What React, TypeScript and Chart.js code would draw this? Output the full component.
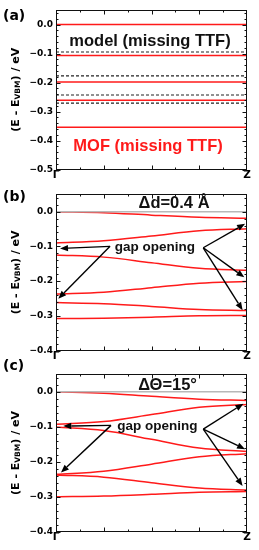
import React, { useEffect, useRef } from "react";
import { Chart, registerables } from "chart.js";

Chart.register(...registerables);

// ---------- data ----------
const kEnds = [0, 1];
const kPath = [0, 0.25, 0.5, 0.75, 1];
const kLabels = ["Γ", "Z"];

const yTicksA = [0, -0.1, -0.2, -0.3, -0.4, -0.5];
const yTicksBC = [0, -0.1, -0.2, -0.3, -0.4];

// panel (a): flat levels
const modelLevels = [0.0, -0.095, -0.177, -0.243, -0.271];
const mofLevels = [0.0, -0.107, -0.198, -0.261, -0.354];

// panel (b): bands along Γ→Z (Δd = 0.4 Å)
const bBand1 = [0.0, -0.003, -0.010, -0.016, -0.019];
const bBand2 = [-0.090, -0.084, -0.070, -0.055, -0.049];
const bBand3 = [-0.125, -0.131, -0.147, -0.163, -0.169];
const bBand4 = [-0.237, -0.232, -0.219, -0.206, -0.201];
const bBand5 = [-0.262, -0.265, -0.273, -0.282, -0.285];
const bBand6 = [-0.308, -0.307, -0.304, -0.300, -0.299];

// panel (c): bands along Γ→Z (ΔΘ = 15°)
const cBand1 = [0.0, -0.004, -0.013, -0.021, -0.025];
const cBand2 = [-0.093, -0.085, -0.065, -0.044, -0.036];
const cBand3 = [-0.101, -0.111, -0.136, -0.161, -0.171];
const cBand4 = [-0.236, -0.227, -0.207, -0.186, -0.177];
const cBand5 = [-0.238, -0.244, -0.260, -0.275, -0.281];
const cBand6 = [-0.300, -0.298, -0.293, -0.287, -0.285];

const zeroRef = [0, 0];

// ---------- styles ----------
const RED = "#ff1a1a";
const BOLD_SANS = "'Liberation Sans', Arial, sans-serif";
const DEJAVU = "'DejaVu Sans', sans-serif";

const pts = (xs: number[], ys: number[]) => xs.map((x, i) => ({ x, y: ys[i] }));

const redLine = (ys: number[], xs = kPath) => ({
  data: pts(xs, ys),
  borderColor: RED,
  borderWidth: 1.5,
  pointRadius: 0,
  tension: 0.35,
  fill: false,
});

const greyLine = () => ({
  data: pts(kEnds, zeroRef),
  borderColor: "#b8b8b8",
  borderWidth: 1.5,
  pointRadius: 0,
  fill: false,
});

const dashedLine = (v: number) => ({
  data: pts(kEnds, [v, v]),
  borderColor: "#222",
  borderWidth: 1.1,
  borderDash: [3, 2],
  pointRadius: 0,
  fill: false,
});

type TextSpec = { text: string; x: number; y: number; color: string; font: string };
type ArrowSpec = { from: [number, number]; to: [number, number][] };
type PanelSpec = {
  top: number;
  height: number;
  areaTop: number;
  areaBottom: number;
  yMin: number;
  yMax: number;
  yTicks: number[];
  label: string;
  labelY: number;
  datasets: any[];
  texts: TextSpec[];
  arrows: ArrowSpec[];
};

const panels: PanelSpec[] = [
  {
    top: 0,
    height: 180,
    areaTop: 10,
    areaBottom: 169.5,
    yMin: -0.5,
    yMax: 0.05,
    yTicks: yTicksA,
    label: "(a)",
    labelY: 16,
    datasets: [
      ...mofLevels.map((v) => redLine([v, v], kEnds)),
      ...modelLevels.map((v) => dashedLine(v)),
    ],
    texts: [
      { text: "model (missing TTF)", x: 0.492, y: -0.058, color: "#111", font: `bold 16.5px ${BOLD_SANS}` },
      { text: "MOF (missing TTF)", x: 0.482, y: -0.42, color: RED, font: `bold 16.5px ${BOLD_SANS}` },
    ],
    arrows: [],
  },
  {
    top: 178,
    height: 182,
    areaTop: 16.3,
    areaBottom: 172.5,
    yMin: -0.4,
    yMax: 0.05,
    yTicks: yTicksBC,
    label: "(b)",
    labelY: 19,
    datasets: [greyLine(), ...[bBand1, bBand2, bBand3, bBand4, bBand5, bBand6].map((b) => redLine(b))],
    texts: [
      { text: "Δd=0.4 Å", x: 0.618, y: 0.023, color: "#111", font: `bold 16.5px ${BOLD_SANS}` },
      { text: "gap opening", x: 0.518, y: -0.104, color: "#111", font: `bold 13.5px ${BOLD_SANS}` },
    ],
    arrows: [
      { from: [0.283, -0.1], to: [[0.021, -0.106], [0.012, -0.251]] },
      { from: [0.771, -0.104], to: [[0.99, -0.035], [0.986, -0.189], [0.977, -0.284]] },
    ],
  },
  {
    top: 352,
    height: 198,
    areaTop: 22.3,
    areaBottom: 179.7,
    yMin: -0.4,
    yMax: 0.05,
    yTicks: yTicksBC,
    label: "(c)",
    labelY: 14,
    datasets: [greyLine(), ...[cBand1, cBand2, cBand3, cBand4, cBand5, cBand6].map((b) => redLine(b))],
    texts: [
      { text: "ΔΘ=15°", x: 0.584, y: 0.019, color: "#111", font: `bold 16.5px ${BOLD_SANS}` },
      { text: "gap opening", x: 0.531, y: -0.098, color: "#111", font: `bold 13.5px ${BOLD_SANS}` },
    ],
    arrows: [
      { from: [0.288, -0.096], to: [[0.038, -0.098], [0.026, -0.231]] },
      { from: [0.771, -0.107], to: [[0.981, -0.034], [0.99, -0.164], [0.977, -0.269]] },
    ],
  },
];

const W = 259;
const AXIS_W = 56;
const RIGHT_PAD = 12;

function drawArrow(ctx: CanvasRenderingContext2D, x0: number, y0: number, x1: number, y1: number) {
  const ang = Math.atan2(y1 - y0, x1 - x0);
  const hl = 8;
  const hw = 3.2;
  const bx = x1 - hl * Math.cos(ang);
  const by = y1 - hl * Math.sin(ang);
  ctx.beginPath();
  ctx.moveTo(x0, y0);
  ctx.lineTo(bx, by);
  ctx.stroke();
  ctx.beginPath();
  ctx.moveTo(x1, y1);
  ctx.lineTo(bx - hw * Math.sin(ang), by + hw * Math.cos(ang));
  ctx.lineTo(bx + hw * Math.sin(ang), by - hw * Math.cos(ang));
  ctx.closePath();
  ctx.fill();
}

function makeDeco(p: PanelSpec) {
  return {
    id: "panelDeco",
    afterDraw(chart: any) {
      const ctx: CanvasRenderingContext2D = chart.ctx;
      const { left, right, top, bottom } = chart.chartArea;
      const xs = chart.scales.x;
      const ys = chart.scales.y;
      ctx.save();
      // frame
      ctx.strokeStyle = "#111";
      ctx.lineWidth = 1;
      const L = Math.round(left) + 0.5;
      const R = Math.round(right) - 0.5;
      const T = Math.round(top) + 0.5;
      const B = Math.round(bottom) - 0.5;
      ctx.strokeRect(L, T, R - L, B - T);
      // y ticks (major 0.1, minor 0.02)
      ctx.beginPath();
      const iMin = Math.ceil(p.yMin * 50 - 1e-6);
      const iMax = Math.floor(p.yMax * 50 + 1e-6);
      for (let i = iMin; i <= iMax; i++) {
        const py = Math.round(ys.getPixelForValue(i / 50)) + 0.5;
        const len = i % 5 === 0 ? 4 : 2;
        ctx.moveTo(L, py);
        ctx.lineTo(L + len, py);
        ctx.moveTo(R, py);
        ctx.lineTo(R - len, py);
      }
      // x ticks
      for (let j = 1; j < 8; j++) {
        const px = Math.round(xs.getPixelForValue(j / 8)) + 0.5;
        const len = j % 2 === 0 ? 4 : 2;
        ctx.moveTo(px, T);
        ctx.lineTo(px, T + len);
        ctx.moveTo(px, B);
        ctx.lineTo(px, B - len);
      }
      ctx.stroke();

      // y axis title with subscript
      const midY = (top + bottom) / 2;
      const fMain = `bold 11px ${DEJAVU}`;
      const fSub = `bold 7.5px ${DEJAVU}`;
      const parts = [
        { t: "(E - E", f: fMain, dy: 0 },
        { t: "VBM", f: fSub, dy: 2.5 },
        { t: ") / eV", f: fMain, dy: 0 },
      ];
      let total = 0;
      const widths = parts.map((pt) => {
        ctx.font = pt.f;
        const w = ctx.measureText(pt.t).width;
        total += w;
        return w;
      });
      ctx.translate(16, midY);
      ctx.rotate(-Math.PI / 2);
      ctx.fillStyle = "#000";
      ctx.textBaseline = "middle";
      ctx.textAlign = "left";
      let cx = -total / 2;
      parts.forEach((pt, i) => {
        ctx.font = pt.f;
        ctx.fillText(pt.t, cx, pt.dy);
        cx += widths[i];
      });
      ctx.setTransform(1, 0, 0, 1, 0, 0);

      // panel label
      ctx.font = `bold 14px ${DEJAVU}`;
      ctx.fillStyle = "#000";
      ctx.textAlign = "left";
      ctx.textBaseline = "middle";
      ctx.fillText(p.label, 3, p.labelY);

      // texts
      ctx.textAlign = "center";
      p.texts.forEach((t) => {
        ctx.font = t.font;
        ctx.fillStyle = t.color;
        ctx.fillText(t.text, xs.getPixelForValue(t.x), ys.getPixelForValue(t.y));
      });

      // arrows
      ctx.strokeStyle = "#000";
      ctx.fillStyle = "#000";
      ctx.lineWidth = 1.4;
      p.arrows.forEach((a) => {
        const x0 = xs.getPixelForValue(a.from[0]);
        const y0 = ys.getPixelForValue(a.from[1]);
        a.to.forEach(([tx, ty]) => {
          drawArrow(ctx, x0, y0, xs.getPixelForValue(tx), ys.getPixelForValue(ty));
        });
      });
      ctx.restore();
    },
  };
}

function Panel({ p }: { p: PanelSpec }) {
  const ref = useRef<HTMLCanvasElement | null>(null);
  useEffect(() => {
    if (!ref.current) return;
    const chart = new Chart(ref.current, {
      type: "line",
      data: { datasets: p.datasets },
      options: {
        animation: false,
        responsive: false,
        devicePixelRatio: 1,
        events: [],
        layout: { padding: { left: 0, right: RIGHT_PAD, top: p.areaTop, bottom: 0 } },
        plugins: { legend: { display: false }, tooltip: { enabled: false } },
        scales: {
          x: {
            type: "linear",
            min: 0,
            max: 1,
            grid: { display: false, drawTicks: false },
            border: { display: false },
            afterFit: (s: any) => {
              s.height = p.height - p.areaBottom;
            },
            afterBuildTicks: (s: any) => {
              s.ticks = kEnds.map((v) => ({ value: v }));
            },
            ticks: {
              autoSkip: false,
              maxRotation: 0,
              padding: -1,
              color: "#000",
              font: { family: DEJAVU, weight: "bold", size: 10.5 },
              callback: (v: any) => kLabels[kEnds.indexOf(Number(v))] ?? "",
            },
          },
          y: {
            type: "linear",
            min: p.yMin,
            max: p.yMax,
            grid: { display: false, drawTicks: false },
            border: { display: false },
            afterFit: (s: any) => {
              s.width = AXIS_W;
            },
            afterBuildTicks: (s: any) => {
              s.ticks = p.yTicks.map((v) => ({ value: v }));
            },
            ticks: {
              autoSkip: false,
              padding: 3,
              color: "#000",
              font: { family: DEJAVU, weight: "bold", size: 9 },
              callback: (v: any) => {
                const n = Number(v);
                return Math.abs(n) < 1e-9 ? "0.0" : "−" + Math.abs(n).toFixed(1);
              },
            },
          },
        },
      } as any,
      plugins: [makeDeco(p)],
    });
    return () => chart.destroy();
  }, [p]);
  return (
    <canvas
      ref={ref}
      width={W}
      height={p.height}
      style={{ position: "absolute", left: 0, top: p.top, width: W, height: p.height }}
    />
  );
}

export default function App() {
  return (
    <div style={{ position: "absolute", left: 0, top: 0, width: W, height: 550, background: "#fff" }}>
      {panels.map((p, i) => (
        <Panel key={i} p={p} />
      ))}
    </div>
  );
}
